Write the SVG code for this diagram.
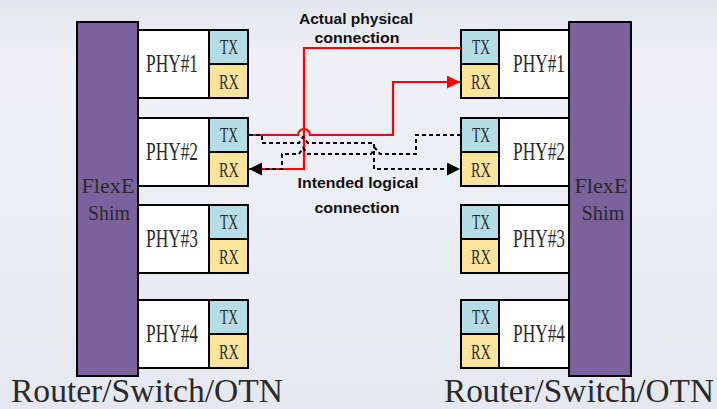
<svg xmlns="http://www.w3.org/2000/svg" width="717" height="409" viewBox="0 0 717 409">
<style>
.box{stroke:#000;stroke-width:2}
.shim{fill:#7b629d}
.phy{fill:#fff}
.tx{fill:#b5dde6}
.rx{fill:#fde49b}
.t{font-family:"Liberation Serif",serif;fill:#2a2a2a;text-anchor:middle}
.lbl{font-family:"Liberation Sans",Arial,sans-serif;font-weight:bold;font-size:15px;fill:#111;text-anchor:middle}
.red{fill:none;stroke:#f00;stroke-width:2.2}
.dash{fill:none;stroke:#000;stroke-width:2;stroke-dasharray:4 3}
</style>
<defs>
<linearGradient id="bg" x1="0" y1="0" x2="0" y2="1">
<stop offset="0" stop-color="#e3e6ee"/>
<stop offset="0.15" stop-color="#f0f0f6"/>
<stop offset="0.5" stop-color="#eceef5"/>
<stop offset="1" stop-color="#e5e8f0"/>
</linearGradient>
<marker id="ar" markerUnits="userSpaceOnUse" markerWidth="14" markerHeight="14" refX="13" refY="6.5" orient="auto"><path d="M0,0 L13,6.5 L0,13 z" fill="#f00"/></marker>
<marker id="ab" markerUnits="userSpaceOnUse" markerWidth="14" markerHeight="14" refX="13" refY="6.5" orient="auto"><path d="M0,0 L13,6.5 L0,13 z" fill="#000"/></marker>
</defs>
<rect width="717" height="409" fill="url(#bg)"/>

<g id="left-shim">
<rect class="box shim" x="77" y="22" width="61" height="354"/>
<text class="t" x="108" y="193" font-size="20" textLength="53" lengthAdjust="spacingAndGlyphs">FlexE</text>
<text class="t" x="109" y="220" font-size="20" textLength="42" lengthAdjust="spacingAndGlyphs">Shim</text>
</g>
<g id="left-phy1">
<rect class="box phy" x="138" y="30" width="71" height="68"/>
<rect class="box tx" x="209" y="30" width="39" height="34"/>
<rect class="box rx" x="209" y="64" width="39" height="34"/>
<text class="t" x="172" y="72" font-size="25" textLength="52" lengthAdjust="spacingAndGlyphs">PHY#1</text>
<text class="t" x="229" y="54" font-size="21" textLength="18" lengthAdjust="spacingAndGlyphs">TX</text>
<text class="t" x="229" y="89" font-size="21" textLength="20" lengthAdjust="spacingAndGlyphs">RX</text>
</g>
<g id="left-phy2">
<rect class="box phy" x="138" y="118" width="71" height="68"/>
<rect class="box tx" x="209" y="118" width="39" height="34"/>
<rect class="box rx" x="209" y="152" width="39" height="34"/>
<text class="t" x="172" y="160" font-size="25" textLength="52" lengthAdjust="spacingAndGlyphs">PHY#2</text>
<text class="t" x="229" y="142" font-size="21" textLength="18" lengthAdjust="spacingAndGlyphs">TX</text>
<text class="t" x="229" y="177" font-size="21" textLength="20" lengthAdjust="spacingAndGlyphs">RX</text>
</g>
<g id="left-phy3">
<rect class="box phy" x="138" y="205" width="71" height="68"/>
<rect class="box tx" x="209" y="205" width="39" height="34"/>
<rect class="box rx" x="209" y="239" width="39" height="34"/>
<text class="t" x="172" y="247" font-size="25" textLength="52" lengthAdjust="spacingAndGlyphs">PHY#3</text>
<text class="t" x="229" y="229" font-size="21" textLength="18" lengthAdjust="spacingAndGlyphs">TX</text>
<text class="t" x="229" y="264" font-size="21" textLength="20" lengthAdjust="spacingAndGlyphs">RX</text>
</g>
<g id="left-phy4">
<rect class="box phy" x="138" y="300" width="71" height="68"/>
<rect class="box tx" x="209" y="300" width="39" height="34"/>
<rect class="box rx" x="209" y="334" width="39" height="34"/>
<text class="t" x="172" y="342" font-size="25" textLength="52" lengthAdjust="spacingAndGlyphs">PHY#4</text>
<text class="t" x="229" y="324" font-size="21" textLength="18" lengthAdjust="spacingAndGlyphs">TX</text>
<text class="t" x="229" y="359" font-size="21" textLength="20" lengthAdjust="spacingAndGlyphs">RX</text>
</g>

<g id="right-shim">
<rect class="box shim" x="569" y="22" width="62" height="354"/>
<text class="t" x="601" y="193" font-size="20" textLength="53" lengthAdjust="spacingAndGlyphs">FlexE</text>
<text class="t" x="603" y="220" font-size="20" textLength="43" lengthAdjust="spacingAndGlyphs">Shim</text>
</g>
<g id="right-phy1">
<rect class="box phy" x="499" y="30" width="70" height="68"/>
<rect class="box tx" x="461" y="30" width="38" height="34"/>
<rect class="box rx" x="461" y="64" width="38" height="34"/>
<text class="t" x="539" y="72" font-size="25" textLength="52" lengthAdjust="spacingAndGlyphs">PHY#1</text>
<text class="t" x="481" y="54" font-size="21" textLength="18" lengthAdjust="spacingAndGlyphs">TX</text>
<text class="t" x="481" y="89" font-size="21" textLength="20" lengthAdjust="spacingAndGlyphs">RX</text>
</g>
<g id="right-phy2">
<rect class="box phy" x="499" y="118" width="70" height="68"/>
<rect class="box tx" x="461" y="118" width="38" height="34"/>
<rect class="box rx" x="461" y="152" width="38" height="34"/>
<text class="t" x="539" y="160" font-size="25" textLength="52" lengthAdjust="spacingAndGlyphs">PHY#2</text>
<text class="t" x="481" y="142" font-size="21" textLength="18" lengthAdjust="spacingAndGlyphs">TX</text>
<text class="t" x="481" y="177" font-size="21" textLength="20" lengthAdjust="spacingAndGlyphs">RX</text>
</g>
<g id="right-phy3">
<rect class="box phy" x="499" y="205" width="70" height="68"/>
<rect class="box tx" x="461" y="205" width="38" height="34"/>
<rect class="box rx" x="461" y="239" width="38" height="34"/>
<text class="t" x="539" y="247" font-size="25" textLength="52" lengthAdjust="spacingAndGlyphs">PHY#3</text>
<text class="t" x="481" y="229" font-size="21" textLength="18" lengthAdjust="spacingAndGlyphs">TX</text>
<text class="t" x="481" y="264" font-size="21" textLength="20" lengthAdjust="spacingAndGlyphs">RX</text>
</g>
<g id="right-phy4">
<rect class="box phy" x="499" y="300" width="70" height="68"/>
<rect class="box tx" x="461" y="300" width="38" height="34"/>
<rect class="box rx" x="461" y="334" width="38" height="34"/>
<text class="t" x="539" y="342" font-size="25" textLength="52" lengthAdjust="spacingAndGlyphs">PHY#4</text>
<text class="t" x="481" y="324" font-size="21" textLength="18" lengthAdjust="spacingAndGlyphs">TX</text>
<text class="t" x="481" y="359" font-size="21" textLength="20" lengthAdjust="spacingAndGlyphs">RX</text>
</g>

<g id="connectors">
<path class="red" d="M249,135 H298 A6,6 0 0 1 310,135 H393 V82 H460" marker-end="url(#ar)"/>
<path class="red" d="M461,48 H304 V169 H249"/>
<path class="dash" d="M249,135 H262 V143 H299 L303,137 L308,143 H374 V169 H460" marker-end="url(#ab)"/>
<path class="dash" d="M461,135 H416 V154 H380 L375,148 L371,154 H308 L303,148 L299,154 H282 V169 H249" marker-end="url(#ab)"/>
</g>

<g id="labels">
<text class="lbl" x="356" y="24" textLength="114" lengthAdjust="spacingAndGlyphs">Actual physical</text>
<text class="lbl" x="357" y="43" textLength="85" lengthAdjust="spacingAndGlyphs">connection</text>
<text class="lbl" x="358" y="188" textLength="121" lengthAdjust="spacingAndGlyphs">Intended logical</text>
<text class="lbl" x="357" y="213" textLength="85" lengthAdjust="spacingAndGlyphs">connection</text>
<text class="t" x="147" y="402" font-size="33" textLength="272" lengthAdjust="spacingAndGlyphs">Router/Switch/OTN</text>
<text class="t" x="579" y="402" font-size="33" textLength="270" lengthAdjust="spacingAndGlyphs">Router/Switch/OTN</text>
</g>
</svg>
